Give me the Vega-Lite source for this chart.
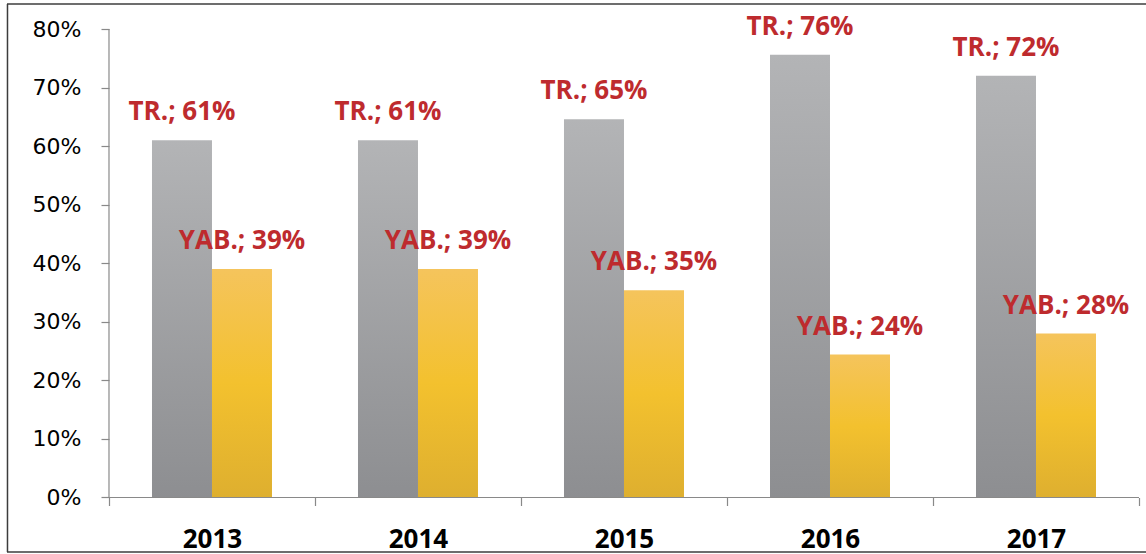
{
  "$schema": "https://vega.github.io/schema/vega-lite/v6.json",
  "width": 1160,
  "height": 548,
  "autosize": {"type": "none"},
  "padding": {"left": 7, "top": 4, "right": -21, "bottom": 2},
  "background": "white",
  "config": {"view": {"stroke": null}, "font": "Open Sans"},
  "data": {"values": [
    {"year": "2013", "series": "TR.", "value": 0.61},
    {"year": "2013", "series": "YAB.", "value": 0.39},
    {"year": "2014", "series": "TR.", "value": 0.61},
    {"year": "2014", "series": "YAB.", "value": 0.39},
    {"year": "2015", "series": "TR.", "value": 0.646},
    {"year": "2015", "series": "YAB.", "value": 0.354},
    {"year": "2016", "series": "TR.", "value": 0.756},
    {"year": "2016", "series": "YAB.", "value": 0.244},
    {"year": "2017", "series": "TR.", "value": 0.72},
    {"year": "2017", "series": "YAB.", "value": 0.28}
  ]},
  "layer": [
    {
      "transform": [{"filter": "datum.series === 'TR.'"}],
      "mark": {"type": "bar", "color": {"gradient": "linear", "x1": 0, "y1": 0, "x2": 0, "y2": 1, "stops": [{"offset": 0, "color": "#B3B4B6"}, {"offset": 1, "color": "#8D8E91"}]}},
      "encoding": {
        "x": {"field": "year", "type": "nominal", "sort": null,
          "scale": {"domain": ["2013", "2014", "2015", "2016", "2017"], "paddingInner": 0, "paddingOuter": 0.3155, "align": 0.7846},
          "axis": {"orient": "bottom", "offset": -54.5, "title": null, "domain": false, "tickBand": "extent", "tickSize": 8, "tickColor": "#898989", "tickWidth": 1.2, "labelFont": "Open Sans", "labelFontSize": 26, "labelFontWeight": "bold", "labelColor": "#000000", "labelBaseline": "alphabetic", "labelPadding": 41.5, "labelAngle": 0}},
        "xOffset": {"field": "series", "type": "nominal", "scale": {"domain": ["TR.", "YAB."], "paddingInner": 0, "paddingOuter": 0.7167}},
        "y": {"field": "value", "type": "quantitative",
          "scale": {"domain": [-0.0931, 0.8427], "nice": false, "zero": false},
          "axis": {"orient": "left", "offset": -102, "title": null, "domain": false, "grid": false, "values": [0, 0.1, 0.2, 0.3, 0.4, 0.5, 0.6, 0.7, 0.8], "format": ".0%", "tickSize": 8, "tickColor": "#898989", "tickWidth": 1.2, "labelFont": "DejaVu Sans", "labelFontSize": 22, "labelColor": "#000000", "labelPadding": 20, "labelBaseline": "middle"}}
      }
    },
    {
      "transform": [{"filter": "datum.series === 'YAB.'"}],
      "mark": {"type": "bar", "color": {"gradient": "linear", "x1": 0, "y1": 0, "x2": 0, "y2": 1, "stops": [{"offset": 0, "color": "#F5C45C"}, {"offset": 0.5, "color": "#F3C12E"}, {"offset": 1, "color": "#DEAF2F"}]}},
      "encoding": {
        "x": {"field": "year", "type": "nominal", "sort": null},
        "xOffset": {"field": "series", "type": "nominal"},
        "y": {"field": "value", "type": "quantitative"}
      }
    },
    {
      "transform": [{"calculate": "datum.series + '; ' + format(datum.value, '.0%')", "as": "label"}],
      "mark": {"type": "text", "font": "Open Sans", "fontSize": 26, "fontWeight": "bold", "color": "#BE2B2E", "baseline": "alphabetic", "align": "center", "dy": -20},
      "encoding": {
        "x": {"field": "year", "type": "nominal", "sort": null},
        "xOffset": {"field": "series", "type": "nominal"},
        "y": {"field": "value", "type": "quantitative"},
        "text": {"field": "label", "type": "nominal"}
      }
    },
    {
      "data": {"values": [{}]},
      "mark": {"type": "rule", "color": "#898989", "strokeWidth": 1.2},
      "encoding": {
        "x": {"datum": "2013", "type": "nominal", "bandPosition": 0},
        "y": {"datum": 0, "type": "quantitative"},
        "y2": {"datum": 0.8}
      }
    },
    {
      "data": {"values": [{}]},
      "mark": {"type": "rule", "color": "#898989", "strokeWidth": 1.2},
      "encoding": {
        "x": {"datum": "2013", "type": "nominal", "bandPosition": 0},
        "x2": {"datum": "2017", "bandPosition": 1},
        "y": {"datum": 0, "type": "quantitative"}
      }
    },
    {
      "data": {"values": [{"edge": 0.8427}, {"edge": -0.0931}]},
      "mark": {"type": "rule", "color": "#3c3c3c", "strokeWidth": 1.5},
      "encoding": {
        "y": {"field": "edge", "type": "quantitative"}
      }
    },
    {
      "data": {"values": [{}]},
      "mark": {"type": "rule", "color": "#3c3c3c", "strokeWidth": 1.5},
      "encoding": {
        "x": {"datum": "2013", "type": "nominal", "bandPosition": -0.4927},
        "y": {"datum": 0.8427, "type": "quantitative"},
        "y2": {"datum": -0.0931}
      }
    }
  ]
}
